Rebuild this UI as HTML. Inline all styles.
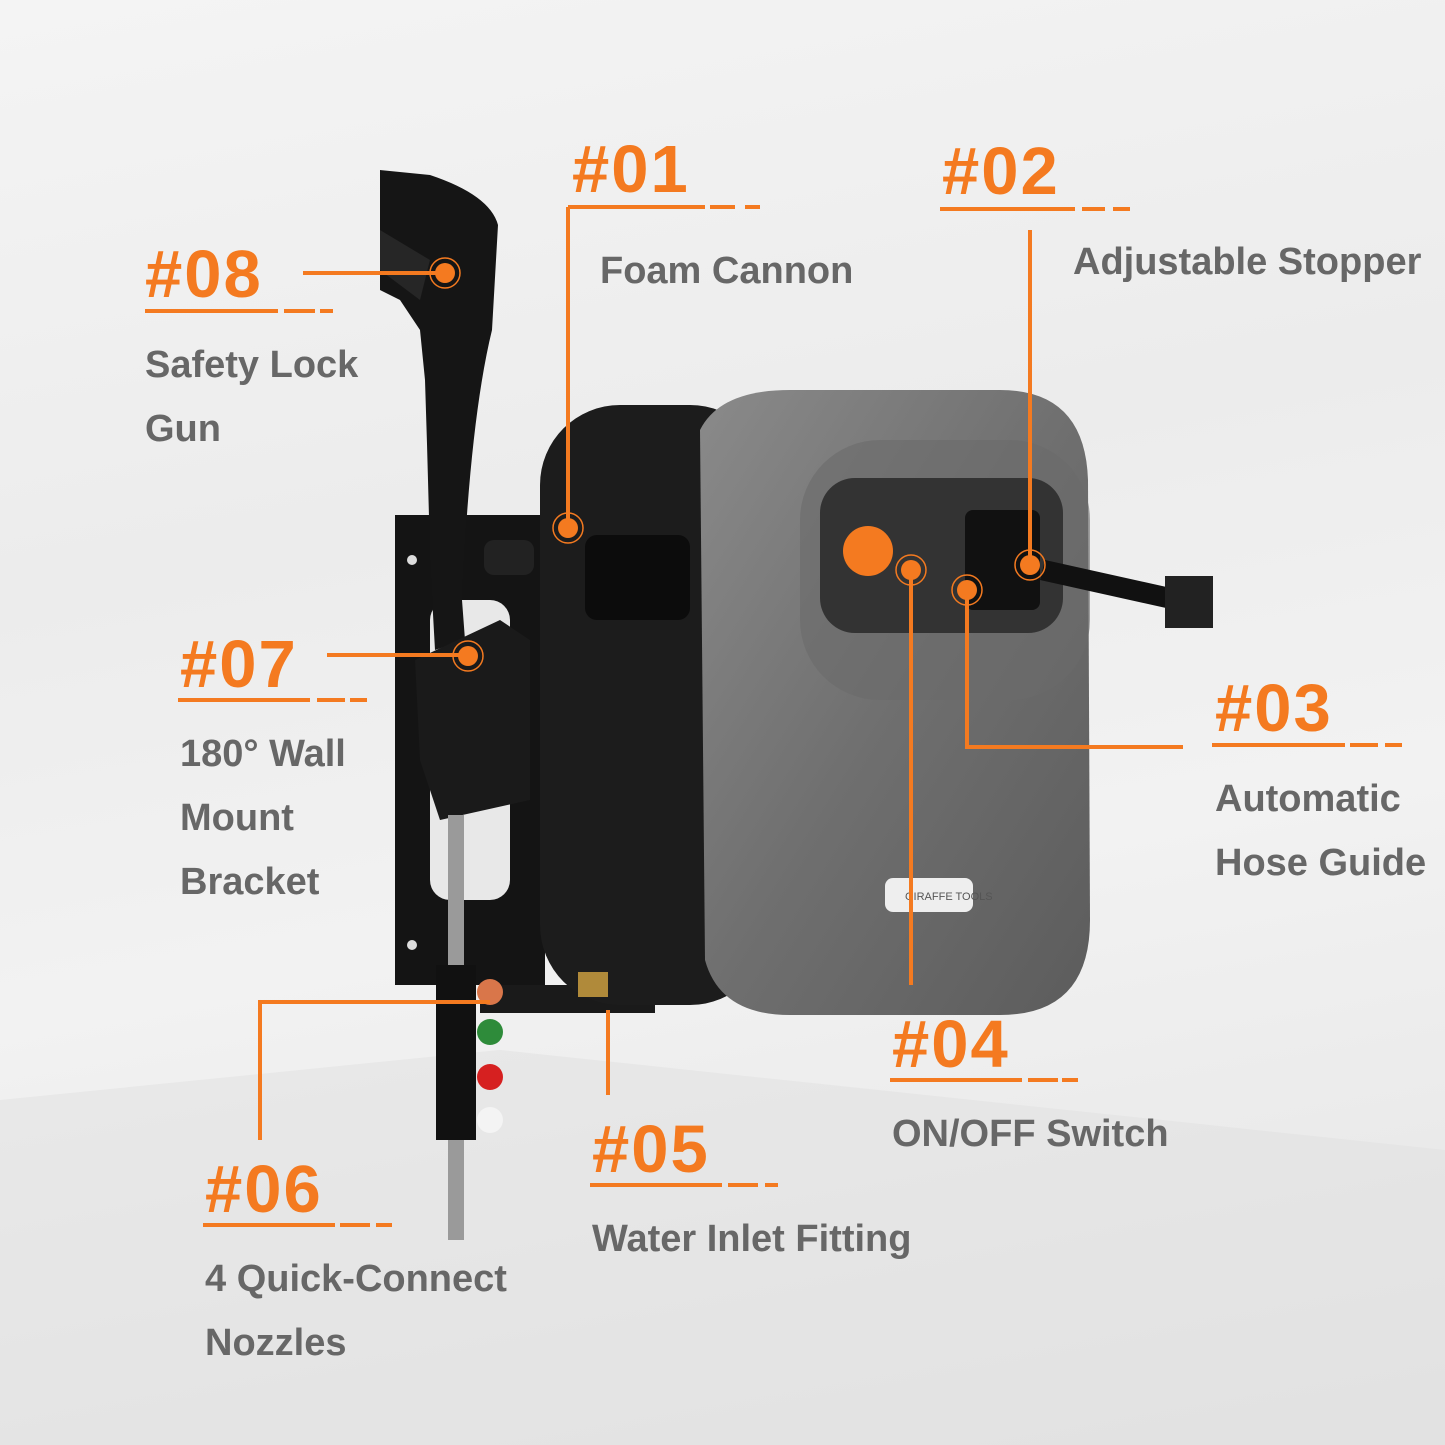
<!DOCTYPE html>
<html><head><meta charset="utf-8"><style>
html,body{margin:0;padding:0}
body{width:1445px;height:1445px;position:relative;overflow:hidden;background:linear-gradient(170deg,#f4f4f4 0%,#ececec 35%,#f2f2f2 60%,#e4e4e4 100%);font-family:"Liberation Sans",sans-serif}
.n{position:absolute;color:#f47a20;font-weight:bold;font-size:67px;line-height:1;letter-spacing:2px}
.t{position:absolute;color:#676767;font-weight:bold;font-size:38px;line-height:1}
svg{position:absolute;left:0;top:0}
</style></head><body>
<svg width="1445" height="1445" viewBox="0 0 1445 1445">
<defs>
<linearGradient id="g1" x1="0" y1="0" x2="1" y2="1"><stop offset="0" stop-color="#8a8a8a"/><stop offset="0.5" stop-color="#6f6f6f"/><stop offset="1" stop-color="#5c5c5c"/></linearGradient>
</defs>
<polygon points="0,1100 500,1050 1445,1150 1445,1445 0,1445" fill="#e0e0e0" opacity="0.5"/>
<!-- bracket -->
<rect x="395" y="515" width="150" height="470" fill="#141414"/>
<rect x="430" y="600" width="80" height="300" rx="20" fill="#e8e8e8"/>
<circle cx="412" cy="560" r="5" fill="#ddd"/><circle cx="412" cy="945" r="5" fill="#ddd"/>
<rect x="480" y="985" width="175" height="28" fill="#1a1a1a"/>
<!-- drum -->
<rect x="540" y="405" width="230" height="600" rx="80" fill="#1c1c1c"/>
<rect x="585" y="535" width="105" height="85" rx="12" fill="#0c0c0c"/>
<!-- body -->
<path d="M700,430 Q720,390 790,390 L1000,390 Q1085,390 1088,480 L1090,920 Q1090,1015 1000,1015 L790,1015 Q720,1015 705,960 Z" fill="url(#g1)"/>
<rect x="800" y="440" width="290" height="260" rx="80" fill="#6a6a6a" opacity="0.6"/>
<rect x="820" y="478" width="243" height="155" rx="35" fill="#333"/>
<circle cx="868" cy="551" r="25" fill="#f47a20"/>
<rect x="965" y="510" width="75" height="100" rx="8" fill="#111"/>
<path d="M1040,580 L1175,610 L1180,590 L1045,560 Z" fill="#111"/>
<rect x="1165" y="576" width="48" height="52" fill="#222"/>
<rect x="885" y="878" width="88" height="34" rx="8" fill="#eee"/>
<text x="905" y="900" font-family="Liberation Sans" font-size="11" fill="#555">GIRAFFE TOOLS</text>
<!-- gun -->
<path d="M380,170 L430,175 Q490,195 498,225 L492,330 Q470,420 462,600 L465,640 L435,650 L430,560 Q428,470 425,380 L420,330 L400,300 L380,290 Z" fill="#151515"/>
<path d="M380,230 L430,260 L420,300 L380,270 Z" fill="#262626"/>
<path d="M415,660 L500,620 L530,640 L530,800 L440,820 L420,760 Z" fill="#1a1a1a"/>
<rect x="484" y="540" width="50" height="35" rx="10" fill="#222"/>
<!-- wand -->
<rect x="448" y="815" width="16" height="425" fill="#9a9a9a"/>
<rect x="436" y="965" width="40" height="175" fill="#111"/>
<circle cx="490" cy="992" r="13" fill="#d9764a"/>
<circle cx="490" cy="1032" r="13" fill="#2e8b3a"/>
<circle cx="490" cy="1077" r="13" fill="#d62020"/>
<circle cx="490" cy="1120" r="13" fill="#f4f4f4"/>
<rect x="578" y="972" width="30" height="25" fill="#b08a3a"/>
<!-- lines -->
<g stroke="#f47a20" stroke-width="4" fill="none">
<path d="M568,207 H705 M710,207 H735 M745,207 H760 M568,207 V528"/>
<path d="M940,209 H1075 M1082,209 H1105 M1113,209 H1130 M1030,230 V565"/>
<path d="M145,311 H278 M284,311 H315 M320,311 H333 M303,273 H445"/>
<path d="M178,700 H310 M317,700 H345 M350,700 H367 M327,655 H468"/>
<path d="M1212,745 H1345 M1350,745 H1378 M1385,745 H1402 M967,590 V747 H1183"/>
<path d="M890,1080 H1022 M1028,1080 H1058 M1062,1080 H1078 M911,570 V985"/>
<path d="M590,1185 H722 M728,1185 H758 M765,1185 H778 M608,1010 V1095"/>
<path d="M203,1225 H335 M340,1225 H370 M376,1225 H392 M490,1002 H260 V1140"/>
</g>
<g fill="#f47a20">
<circle cx="568" cy="528" r="10"/><circle cx="1030" cy="565" r="10"/><circle cx="445" cy="273" r="10"/><circle cx="468" cy="656" r="10"/><circle cx="967" cy="590" r="10"/><circle cx="911" cy="570" r="10"/>
</g>
<g fill="none" stroke="#f47a20" stroke-width="1.5">
<circle cx="568" cy="528" r="15"/><circle cx="1030" cy="565" r="15"/><circle cx="445" cy="273" r="15"/><circle cx="468" cy="656" r="15"/><circle cx="967" cy="590" r="15"/><circle cx="911" cy="570" r="15"/>
</g>
</svg>
<div class="n" style="left:572px;top:136px">#01</div>
<div class="t" style="left:600px;top:252px">Foam Cannon</div>
<div class="n" style="left:942px;top:138px">#02</div>
<div class="t" style="left:1073px;top:243px">Adjustable Stopper</div>
<div class="n" style="left:145px;top:241px">#08</div>
<div class="t" style="left:145px;top:346px">Safety Lock</div>
<div class="t" style="left:145px;top:410px">Gun</div>
<div class="n" style="left:180px;top:631px">#07</div>
<div class="t" style="left:180px;top:735px">180° Wall</div>
<div class="t" style="left:180px;top:799px">Mount</div>
<div class="t" style="left:180px;top:863px">Bracket</div>
<div class="n" style="left:1215px;top:675px">#03</div>
<div class="t" style="left:1215px;top:780px">Automatic</div>
<div class="t" style="left:1215px;top:844px">Hose Guide</div>
<div class="n" style="left:892px;top:1011px">#04</div>
<div class="t" style="left:892px;top:1115px">ON/OFF Switch</div>
<div class="n" style="left:592px;top:1116px">#05</div>
<div class="t" style="left:592px;top:1220px">Water Inlet Fitting</div>
<div class="n" style="left:205px;top:1156px">#06</div>
<div class="t" style="left:205px;top:1260px">4 Quick-Connect</div>
<div class="t" style="left:205px;top:1324px">Nozzles</div>
</body></html>
